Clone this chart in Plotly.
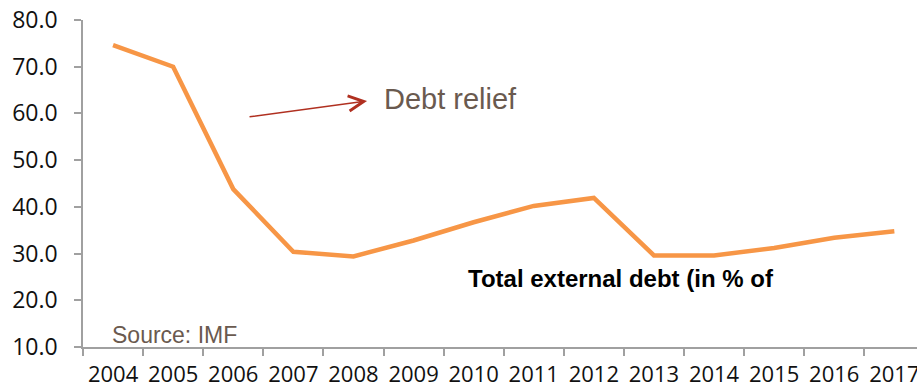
import plotly.graph_objects as go

years = ["2004", "2005", "2006", "2007", "2008", "2009", "2010",
         "2011", "2012", "2013", "2014", "2015", "2016", "2017"]
debt = [74.6, 70.0, 43.8, 30.4, 29.4, 32.8, 36.7,
        40.2, 41.9, 29.6, 29.6, 31.2, 33.4, 34.8]
y_ticks = [10, 20, 30, 40, 50, 60, 70, 80]

AXIS = "#a0a0a0"
NOTE = "#6a5a4f"

fig = go.Figure()
fig.add_trace(go.Scatter(
    x=years, y=debt, mode="lines",
    line=dict(color="#F79646", width=4.5),
    showlegend=False, hoverinfo="skip",
))

fig.update_layout(
    width=917, height=391, autosize=False,
    margin=dict(l=83, r=0, t=20, b=44, pad=0),
    paper_bgcolor="white", plot_bgcolor="white",
    font=dict(family="Open Sans", size=23, color="#111111"),
    xaxis=dict(
        type="category", categoryorder="array", categoryarray=years,
        range=[-0.5, 13.377], automargin=False, tickangle=0,
        tickson="boundaries", ticks="outside", ticklen=7, tickwidth=1.5,
        tickcolor=AXIS, showline=True, linecolor=AXIS, linewidth=1.5,
        showgrid=False, zeroline=False, ticklabelstandoff=7,
        tickfont=dict(family="Open Sans", size=22, color="#111111"),
    ),
    yaxis=dict(
        range=[10, 80], tickvals=y_ticks, tickformat=".1f", automargin=False,
        ticks="outside", ticklen=7, tickwidth=1.5, tickcolor=AXIS,
        showline=True, linecolor=AXIS, linewidth=1.5,
        showgrid=False, zeroline=False, ticklabelstandoff=12,
        tickfont=dict(family="Open Sans", size=23, color="#111111"),
    ),
)

# "Debt relief" label
fig.add_annotation(
    x=4.526, y=63.1, xref="x", yref="y", text="Debt relief",
    showarrow=False, xanchor="left", yanchor="middle", xshift=-3,
    font=dict(family="Liberation Sans", size=29, color=NOTE),
)
# arrow pointing to label
fig.add_annotation(
    x=4.226, y=62.67, xref="x", yref="y", text="",
    showarrow=True, arrowhead=5, arrowsize=2, arrowwidth=1.5,
    arrowcolor="#b03020", ax=-119, ay=16, standoff=0,
)
# series caption
fig.add_annotation(
    x=5.907, y=24.77, xref="x", yref="y",
    text="<b>Total external debt (in % of</b>",
    showarrow=False, xanchor="left", yanchor="middle", xshift=-2,
    font=dict(family="Liberation Sans", size=24, color="#000000"),
)
# source
fig.add_annotation(
    x=0.0, y=12.5, xref="x", yref="y", text="Source: IMF",
    showarrow=False, xanchor="left", yanchor="middle", xshift=-3,
    font=dict(family="Liberation Sans", size=23, color=NOTE),
)

fig.write_html("out.html")
